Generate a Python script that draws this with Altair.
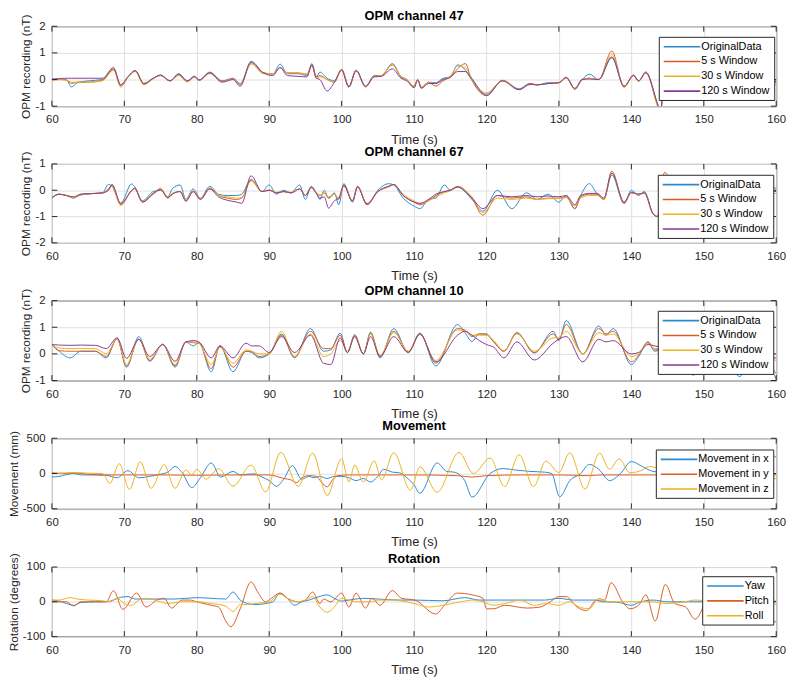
import altair as alt
import pandas as pd

FONT = "Liberation Sans"
DARK = "#262626"
GRID = "#dfdfdf"
W = 734
TICK_LEN = 5.5
X_TICKS = [60, 70, 80, 90, 100, 110, 120, 130, 140, 150, 160]

OPM_NAMES = ["OriginalData", "5 s Window", "30 s Window", "120 s Window"]
MOV_NAMES = ["Movement in x", "Movement in y", "Movement in z"]
ROT_NAMES = ["Yaw", "Pitch", "Roll"]
COLORS = ["#2a8bd2", "#dc5c25", "#edb120", "#853d96"]

# ---------------- OPM channel 47 ----------------
P1_T = [60, 61, 62, 62.7, 63.5, 65, 67, 68.5, 69.5, 70.5,
        71.5, 72.7, 74, 75, 76.3, 77.5, 78.7, 79.7, 80.3, 81.8,
        83.5, 85, 86, 87.5, 89.2, 90.5, 91.5, 92.5, 94, 95.2,
        95.9, 96.5, 97, 98, 99, 100, 101, 102, 103.3, 104.5,
        105.5, 107, 108.2, 109, 110, 110.5, 111, 112, 113, 114,
        115, 116, 117.1, 117.8, 120, 122.2, 124.5, 126, 127, 128.5,
        130, 131, 132.2, 133.2, 134.2, 135.5, 137.3, 139, 140.3, 141,
        142, 143.6, 144.0, 144.6, 146, 148, 150, 152, 154, 156,
        157.8, 158.5, 160]
P1_ORIG = [0.0, 0.02, 0.0, -0.28, -0.12, -0.05, 0.0, 0.38, -0.2, 0.1,
           0.33, -0.15, 0.05, 0.17, -0.05, 0.22, -0.05, 0.12, -0.02, 0.28,
           -0.05, 0.05, -0.15, 0.65, 0.25, 0.2, 0.58, 0.22, 0.22, 0.15,
           0.6, 0.1, 0.28, 0.05, -0.05, 0.38, -0.25, 0.35, -0.25, 0.15,
           0.15, 0.6, 0.1, 0.0, -0.3, 0.0, -0.3, -0.1, -0.12, 0.05,
           0.1, 0.55, 0.35, 0.05, -0.55, -0.03, -0.35, -0.15, -0.2, -0.12,
           -0.12, 0.08, -0.35, 0.0, 0.2, 0.0, 0.82, -0.25, 0.15, -0.05,
           0.28, -0.9, -1.2, 0.0, 0.1, -0.2, 0.2, 0.0, 0.2, 0.1,
           0.3, 0.0, -0.05]
P1_W5 = [0.0, 0.0, -0.02, -0.15, -0.1, -0.1, -0.02, 0.4, -0.25, 0.1,
         0.33, -0.18, 0.05, 0.15, -0.05, 0.18, -0.08, 0.1, -0.04, 0.25,
         -0.06, 0.03, -0.2, 0.6, 0.25, 0.22, 0.45, 0.25, 0.25, 0.2,
         0.55, 0.1, 0.15, 0.0, -0.1, 0.38, -0.28, 0.35, -0.28, 0.12,
         0.15, 0.55, 0.12, 0.0, -0.25, 0.0, -0.3, -0.1, -0.25, -0.05,
         0.1, 0.4, 0.6, 0.1, -0.6, -0.03, -0.38, -0.15, -0.2, -0.15,
         -0.12, 0.08, -0.37, 0.0, 0.05, 0.0, 1.07, -0.28, 0.18, -0.06,
         0.28, -0.95, -1.2, 0.0, 0.1, -0.2, 0.2, 0.0, 0.2, 0.1,
         0.3, -0.05, -0.1]
P1_W30 = [-0.05, 0.0, -0.02, -0.1, -0.1, -0.1, -0.05, 0.35, -0.28, 0.08,
          0.3, -0.2, 0.03, 0.15, -0.05, 0.15, -0.08, 0.1, -0.04, 0.22,
          -0.08, 0.02, -0.2, 0.6, 0.22, 0.22, 0.45, 0.25, 0.25, 0.2,
          0.5, 0.05, 0.1, 0.0, -0.1, 0.35, -0.28, 0.33, -0.28, 0.12,
          0.15, 0.55, 0.12, 0.0, -0.25, 0.0, -0.28, -0.12, -0.15, 0.0,
          0.12, 0.5, 0.45, 0.1, -0.5, -0.05, -0.38, -0.18, -0.2, -0.15,
          -0.12, 0.05, -0.35, -0.02, 0.05, 0.0, 0.95, -0.3, 0.15, -0.06,
          0.25, -1.0, -1.3, 0.0, 0.1, -0.2, 0.2, 0.0, 0.2, 0.1,
          0.25, -0.1, -0.2]
P1_W120 = [0.02, 0.03, 0.05, 0.05, 0.05, 0.05, 0.05, 0.45, -0.2, 0.1,
           0.33, -0.15, 0.05, 0.17, -0.05, 0.2, -0.05, 0.12, -0.02, 0.25,
           -0.1, 0.0, -0.25, 0.68, 0.25, 0.15, 0.45, 0.15, 0.12, 0.1,
           0.55, 0.05, 0.0, -0.43, -0.1, 0.35, -0.28, 0.33, -0.25, 0.1,
           0.12, 0.4, 0.05, -0.05, -0.3, -0.02, -0.33, -0.15, -0.15, 0.0,
           0.08, 0.3, 0.3, 0.1, -0.6, -0.05, -0.38, -0.18, -0.2, -0.15,
           -0.12, 0.08, -0.33, 0.0, 0.02, 0.0, 0.85, -0.25, 0.15, -0.05,
           0.25, -0.9, -1.2, 0.0, 0.1, -0.2, 0.2, 0.0, 0.2, 0.1,
           0.28, -0.05, -0.1]

# ---------------- OPM channel 67 ----------------
P2_T = [60, 61, 62, 63, 64, 66, 67, 67.8, 68.3, 69.5,
        71, 71.4, 72.5, 74, 75, 76, 76.6, 77.7, 78.5, 79.5,
        80.5, 81.8, 83, 84.2, 85.5, 86.2, 87.5, 89, 90, 91,
        92, 93, 94.2, 95, 95.8, 96.5, 97, 97.6, 98.2, 99,
        99.6, 100.3, 101.5, 102.2, 103.5, 105, 106.5, 107.2, 108.5, 110,
        110.8, 112, 113, 114.2, 115, 116, 118, 119.5, 121.5, 123.5,
        125.5, 127, 128.5, 130, 131, 132.2, 133, 134.2, 135.3, 136.2,
        137.3, 139, 140, 141, 141.8, 143, 143.6, 144.6, 146, 148,
        150, 152, 154, 156, 158, 159, 160]
P2_ORIG = [-0.3, -0.15, -0.2, -0.3, -0.15, -0.12, -0.1, 0.22, 0.15, -0.5,
           0.24, 0.15, -0.4, -0.05, 0.0, -0.25, 0.05, 0.2, -0.35, 0.05,
           -0.3, 0.15, -0.15, -0.2, -0.2, -0.15, 0.4, -0.05, 0.2, -0.15,
           0.0, -0.1, 0.2, -0.35, 0.15, -0.1, -0.35, 0.0, -0.3, -0.1,
           -0.55, 0.25, -0.45, 0.15, -0.55, 0.0, 0.25, 0.2, -0.3, -0.6,
           -0.7, -0.35, -0.3, 0.2, 0.0, 0.12, -0.35, -0.8, 0.0, -0.7,
           -0.1, -0.35, -0.15, -0.45, -0.2, -0.7, -0.2, 0.25, -0.15, -0.35,
           0.58, -0.5, 0.0, -0.2, -0.05, -0.9, -1.0, 0.4, 0.0, -0.3,
           0.1, -0.3, 0.0, -0.2, 0.25, 0.1, 0.08]
P2_W5 = [-0.28, -0.15, -0.2, -0.28, -0.18, -0.12, -0.1, 0.05, 0.2, -0.55,
         0.0, 0.08, -0.45, -0.15, 0.05, -0.3, -0.15, -0.05, -0.4, -0.05,
         -0.35, 0.08, -0.2, -0.3, -0.35, -0.3, 0.4, -0.05, 0.0, -0.1,
         -0.05, -0.1, 0.05, -0.2, 0.12, -0.1, -0.2, -0.1, -0.3, -0.15,
         -0.35, 0.2, -0.4, 0.15, -0.55, -0.05, 0.15, 0.22, -0.2, -0.45,
         -0.55, -0.4, -0.2, -0.05, 0.0, 0.15, -0.3, -0.95, -0.2, -0.3,
         -0.25, -0.35, -0.3, -0.3, -0.25, -0.7, -0.25, -0.15, -0.15, -0.35,
         0.73, -0.5, -0.1, -0.15, -0.1, -0.9, -1.0, 0.68, 0.0, -0.3,
         0.1, -0.3, 0.0, -0.2, 0.2, 0.0, -0.02]
P2_W30 = [-0.28, -0.15, -0.2, -0.28, -0.18, -0.12, -0.1, 0.0, 0.15, -0.58,
          -0.02, 0.05, -0.42, -0.12, 0.08, -0.25, -0.12, -0.05, -0.38, -0.02,
          -0.3, 0.05, -0.18, -0.25, -0.3, -0.28, 0.35, -0.05, 0.02, -0.08,
          -0.05, -0.08, 0.05, -0.18, 0.1, -0.08, -0.18, -0.12, -0.25, -0.15,
          -0.3, 0.15, -0.38, 0.12, -0.5, -0.05, 0.12, 0.2, -0.15, -0.4,
          -0.5, -0.4, -0.25, -0.1, -0.02, 0.12, -0.25, -0.85, -0.3, -0.35,
          -0.3, -0.35, -0.32, -0.32, -0.28, -0.6, -0.3, -0.2, -0.2, -0.35,
          0.65, -0.45, -0.1, -0.15, -0.12, -0.9, -1.0, 0.5, 0.0, -0.3,
          0.1, -0.3, 0.0, -0.2, 0.15, -0.05, -0.13]
P2_W120 = [-0.28, -0.15, -0.2, -0.25, -0.15, -0.12, -0.1, 0.0, 0.22, -0.5,
           -0.02, 0.08, -0.45, -0.12, 0.02, -0.28, -0.15, -0.05, -0.42, -0.05,
           -0.35, 0.05, -0.25, -0.38, -0.45, -0.5, 0.55, -0.05, 0.0, -0.1,
           -0.05, -0.1, 0.05, -0.2, 0.1, -0.12, -0.3, -0.25, -0.68, -0.4,
           -0.3, 0.18, -0.42, 0.12, -0.52, -0.05, 0.15, 0.22, -0.2, -0.45,
           -0.5, -0.35, -0.15, -0.05, 0.0, 0.12, -0.3, -0.7, -0.2, -0.25,
           -0.2, -0.25, -0.22, -0.25, -0.2, -0.55, -0.2, -0.12, -0.12, -0.3,
           0.65, -0.45, -0.08, -0.15, -0.1, -0.9, -1.0, 0.45, 0.0, -0.3,
           0.1, -0.3, 0.0, -0.2, 0.18, 0.0, -0.05]

# ---------------- OPM channel 10 ----------------
P3_T = [60, 61, 62.5, 64, 66, 67.5, 69, 70.3, 72, 73.5,
        75.3, 77, 78.5, 79.5, 80.3, 82, 83.2, 85, 86.8, 87.6,
        88.6, 90, 91.7, 93.5, 95.7, 97.5, 98.5, 99.8, 100.8, 101.8,
        103, 104, 105.3, 107.2, 109.2, 110.8, 113, 116, 117, 118,
        119, 120, 121, 122.4, 124.2, 126.6, 129.2, 130, 131, 133.3,
        135.5, 136.5, 137.5, 140, 141, 142.3, 143.2, 145, 147, 148.6,
        150, 152, 153.5, 155, 156.5, 158, 159, 160]
P3_ORIG = [0.35, 0.1, -0.15, 0.1, 0.1, -0.15, 0.58, -0.5, 0.65, -0.28,
           0.37, -0.5, 0.45, 0.3, 0.42, -0.67, 0.3, -0.67, 0.1, 0.05,
           -0.15, 0.0, 0.75, -0.15, 0.95, 0.1, 0.15, 0.78, 0.05, 0.72,
           0.0, 0.82, -0.15, 0.95, 0.05, 0.78, -0.45, 1.1, 0.8, 0.47,
           0.75, 0.75, 0.45, 0.1, 0.8, 0.03, 0.85, 0.5, 1.25, 0.0,
           1.05, 0.7, 0.95, -0.4, -0.1, 0.45, 0.1, 0.2, -0.3, -0.8,
           0.0, 0.2, -0.4, -0.85, 0.1, -0.25, -0.45, -0.95]
P3_W5 = [0.35, 0.12, 0.1, 0.1, 0.1, -0.1, 0.55, -0.45, 0.55, -0.25,
         0.35, -0.45, 0.45, 0.42, 0.4, -0.55, 0.3, -0.5, 0.1, 0.08,
         -0.1, 0.0, 0.7, -0.12, 0.85, 0.2, 0.2, 0.7, 0.05, 0.7,
         0.0, 0.78, -0.1, 0.85, 0.08, 0.75, -0.35, 0.95, 0.9, 0.65,
         0.75, 0.72, 0.45, 0.1, 0.78, 0.05, 0.75, 0.55, 1.1, 0.0,
         0.95, 0.75, 0.85, -0.3, -0.05, 0.45, 0.15, 0.2, -0.2, -0.5,
         0.0, 0.2, -0.3, -0.6, 0.0, -0.2, -0.4, -0.75]
P3_W30 = [0.35, 0.22, 0.2, 0.2, 0.2, 0.0, 0.55, -0.4, 0.55, -0.2,
          0.35, -0.4, 0.45, 0.45, 0.4, -0.4, 0.25, -0.35, 0.15, 0.1,
          0.0, 0.0, 0.85, -0.1, 0.75, -0.1, 0.0, 0.5, 0.1, 0.65,
          0.0, 0.75, -0.05, 0.8, 0.1, 0.72, -0.25, 0.9, 0.85, 0.7,
          0.7, 0.7, 0.5, 0.12, 0.75, 0.1, 0.6, 0.62, 0.85, 0.0,
          0.8, 0.7, 0.75, -0.1, 0.0, 0.4, 0.2, 0.2, 0.0, -0.2,
          0.0, 0.1, -0.1, -0.3, 0.0, -0.1, -0.15, -0.25]
P3_W120 = [0.35, 0.33, 0.32, 0.33, 0.32, 0.2, 0.6, -0.17, 0.55, -0.1,
           0.35, -0.28, 0.45, 0.5, 0.45, -0.15, 0.3, -0.15, 0.4, 0.3,
           0.3, 0.05, 0.65, 0.05, 0.7, -0.35, -0.4, 0.6, 0.05, 0.65,
           0.0, 0.65, -0.1, 0.65, 0.05, 0.75, -0.3, 0.7, 0.85, 0.7,
           0.5, 0.35, 0.25, -0.15, 0.45, -0.23, 0.4, 0.55, 0.65, -0.3,
           0.55, 0.45, 0.5, 0.0, 0.05, 0.35, 0.3, 0.2, 0.1, 0.0,
           0.1, 0.1, 0.0, -0.1, 0.0, -0.1, -0.15, -0.15]

# ---------------- Movement ----------------
MX_T = [60, 61, 62, 63, 64, 66, 67.5, 69, 70.5, 72,
        73.5, 75, 76, 77, 78, 79.3, 80.5, 82, 83.3, 85,
        86, 87, 88, 89, 90, 91, 92, 93.2, 94.5, 95.5,
        96.2, 97, 98, 99, 100, 101, 102, 103, 104, 105,
        105.8, 107, 108, 109, 110, 110.8, 113.2, 114.5, 115.5, 117,
        118, 120.5, 122.3, 124, 126, 128, 129, 130.1, 131.5, 133,
        134.2, 135.5, 137, 138.5, 140, 141.5, 143, 146, 150, 154,
        157, 159.5, 160]
MX_V = [-50, -40, -15, 0, -20, -20, -25, -60, 40, -60,
        -40, -10, 20, 100, 10, -200, -60, 150, -50, 30,
        -20, -10, -5, -50, -100, -180, -80, 110, -80, -40,
        -60, -40, -70, -40, -40, -60, -100, -70, -120, -40,
        60, 20, 10, -60, -160, -280, 150, 30, 20, -100,
        -335, 0, 70, 50, 30, 20, 0, -330, -100, 0,
        130, 60, -100, 0, 170, 100, 30, 0, -50, 50,
        100, 250, 230]
MY_T = [60, 62, 63, 65, 68, 75, 80, 85, 90, 91,
        92, 93, 93.8, 94.5, 95.5, 96.5, 97.2, 98, 98.8, 99.5,
        101, 110, 116, 118, 120, 125, 130, 134, 136, 140,
        150, 160]
MY_V = [10, 0, 10, -10, -20, -20, -25, -20, -20, -40,
        -70, -90, -130, -60, -30, -40, -120, -190, -80, -30,
        -20, -20, -30, -50, -30, -20, -20, -30, -20, -20,
        -20, -20]
MZ_T = [60, 62, 63, 65, 67, 68, 69.3, 70.7, 72.2, 73.7,
        75.5, 77, 78.5, 79.3, 80, 81.3, 83, 85, 87.5, 89.5,
        91.6, 94, 96, 98, 100, 101, 101.8, 103, 104.5, 105.5,
        107.2, 109.5, 110.8, 113.2, 116.2, 118.2, 120.5, 122.5, 124.5, 126.5,
        128.2, 130, 131.5, 133.6, 135.6, 137, 138.3, 139.8, 141.3, 142.5,
        144, 147, 150, 153, 156, 158.5, 160]
MZ_V = [0, 10, 15, 5, 0, -140, 140, -225, 165, -210,
        125, -210, 50, -20, 60, -80, 70, -180, 120, -260,
        300, -180, 290, -310, 210, -120, 120, -120, 180, -90,
        295, -235, 95, -265, 300, 0, 220, -185, 265, -185,
        175, 15, 295, -220, 290, 60, 210, 10, 40, 100,
        60, -100, 100, -100, 50, -20, -80]

# ---------------- Rotation ----------------
RY_T = [60, 61, 62, 63, 64, 66, 67.5, 68.5, 69.5, 70.5,
        71.5, 73, 75, 77, 80, 82, 84, 85, 86, 87,
        88, 89.5, 90.5, 91.5, 92.5, 93.5, 94.5, 95.5, 96.5, 98,
        99, 100, 101, 103, 105, 108, 110, 114, 117, 119,
        122, 125, 128, 130, 132, 135, 136, 138, 140, 141,
        143, 145, 148, 152, 156, 158.5, 160]
RY_V = [5, 2, -5, -10, -2, 0, 0, 5, 13, 15,
        8, 8, 8, 8, 12, 10, 8, 28, 5, -5,
        -8, -5, 0, 25, 10, -10, 0, 5, 12, 20,
        10, 2, 5, 10, 8, 5, 5, 3, 12, 5,
        5, 5, 5, 10, 5, 5, 0, -1, -10, -2,
        5, 0, 0, 0, 0, 0, 2]
RP_T = [60, 62, 63, 64, 67.5, 68.5, 69.8, 71.7, 73, 74.5,
        75.5, 76.5, 78, 79, 80, 82, 83, 84, 84.7, 86,
        87.5, 88.5, 89.5, 90.3, 91.5, 92.5, 94, 95, 96, 97,
        97.5, 98.5, 100, 101, 102, 103.3, 104.2, 105.3, 107, 108.3,
        110.1, 113, 114.2, 116, 118, 119.5, 120, 121, 122.5, 125.6,
        127.4, 128.8, 130, 131, 132.5, 133.8, 135.2, 136.3, 137.2, 138.8,
        139.8, 141, 142, 143.3, 144.7, 146, 147.5, 148.8, 151, 154,
        157, 158.5, 159.3, 160]
RP_V = [0, 0, -12, 0, 0, 32, -22, 25, -15, 5,
        10, -18, 5, 5, 0, -10, -15, -55, -72, -20,
        57, 25, 0, 10, 25, 10, 0, 5, 28, -5,
        8, 0, 25, -15, 25, -18, 10, -10, 32, 10,
        5, -35, -10, 25, 20, 10, -20, -20, -10, -18,
        -15, 0, 15, 15, -15, -25, 5, 5, 55, 0,
        -20, -10, 20, -55, 50, -5, -15, -50, 20, -30,
        10, -10, -55, -58]
RR_T = [60, 61, 62, 62.5, 63.5, 65, 67, 68, 69, 70,
        71, 72, 73, 75, 76, 78, 80, 82, 84, 85,
        86, 87, 88, 90, 91.5, 92.5, 94, 95, 96, 97,
        98, 99, 100, 101, 102, 104, 105, 107, 110, 112,
        114, 116.5, 118, 119.5, 121, 122.5, 124.7, 126.5, 128.3, 130,
        131.5, 132.8, 134.2, 135.5, 137, 139, 141, 143, 144.7, 147.4,
        148.8, 152, 156, 159, 160]
RR_V = [5, 5, 10, 12, 8, 5, 3, 0, 10, -5,
        -10, 5, 10, 0, -5, 0, 0, -5, -12, -28,
        -8, -8, -5, 0, 22, 10, 0, 5, 15, -15,
        -30, -15, 10, 5, 0, 0, 5, 5, -5, -15,
        -10, 0, 5, 0, -10, -5, 5, -10, -5, -10,
        0, -15, -20, 10, 0, 0, 0, 0, -5, 0,
        5, 0, 0, 5, -10]


def frame(pairs):
    rows = []
    for name, ts, vs in pairs:
        for t, v in zip(ts, vs):
            rows.append({"t": t, "v": v, "s": name})
    return pd.DataFrame(rows)


def panel(df, names, title, ytitle, ydomain, yticks, height, lx, ly, toff):
    xscale = alt.Scale(domain=[60, 160], nice=False, zero=False)
    yscale = alt.Scale(domain=ydomain, nice=False, zero=False)
    xaxis = alt.Axis(values=X_TICKS, title="Time (s)", grid=True, ticks=False,
                     tickSize=0, domain=False, labelPadding=8, titlePadding=8,
                     labelFlush=False, labelExpr="datum.value + ''")
    yaxis = alt.Axis(values=yticks, title=ytitle, grid=True, ticks=False,
                     tickSize=0, domain=False, labelPadding=7, titlePadding=2,
                     titleFontSize=12, labelExpr="datum.value + ''")
    legend = alt.Legend(orient="none", legendX=lx, legendY=ly, title=None,
                        symbolType="M-1,0H6.4", symbolSize=100,
                        symbolStrokeWidth=1.6, labelFont=FONT, labelFontSize=11,
                        labelColor="#000000", labelOffset=27, rowPadding=4,
                        padding=4, fillColor="white", strokeColor=DARK)
    lines = alt.Chart(df).mark_line(strokeWidth=1.0, interpolate="monotone",
                                    clip=True).encode(
        x=alt.X("t:Q", scale=xscale, axis=xaxis),
        y=alt.Y("v:Q", scale=yscale, axis=yaxis),
        color=alt.Color("s:N", scale=alt.Scale(domain=names, range=COLORS[:len(names)]),
                        legend=legend),
    )
    xt = pd.DataFrame({"t": X_TICKS})
    yt = pd.DataFrame({"v": yticks})
    tick_b = alt.Chart(xt).mark_rule(color=DARK, strokeWidth=1).encode(
        x=alt.X("t:Q", scale=xscale, axis=xaxis),
        y=alt.value(height), y2=alt.value(height - TICK_LEN))
    tick_t = alt.Chart(xt).mark_rule(color=DARK, strokeWidth=1).encode(
        x=alt.X("t:Q", scale=xscale, axis=xaxis),
        y=alt.value(0), y2=alt.value(TICK_LEN))
    tick_l = alt.Chart(yt).mark_rule(color=DARK, strokeWidth=1).encode(
        y=alt.Y("v:Q", scale=yscale, axis=yaxis),
        x=alt.value(0), x2=alt.value(TICK_LEN))
    tick_r = alt.Chart(yt).mark_rule(color=DARK, strokeWidth=1).encode(
        y=alt.Y("v:Q", scale=yscale, axis=yaxis),
        x=alt.value(W - TICK_LEN), x2=alt.value(W))
    return alt.layer(lines, tick_b, tick_t, tick_l, tick_r).properties(
        width=W, height=height,
        title=alt.TitleParams(title, anchor="middle", frame="group", offset=toff,
                              fontSize=13, font=FONT, fontWeight="bold",
                              color="#000000"))


df1 = frame([(OPM_NAMES[0], P1_T, P1_ORIG), (OPM_NAMES[1], P1_T, P1_W5),
             (OPM_NAMES[2], P1_T, P1_W30), (OPM_NAMES[3], P1_T, P1_W120)])
df2 = frame([(OPM_NAMES[0], P2_T, P2_ORIG), (OPM_NAMES[1], P2_T, P2_W5),
             (OPM_NAMES[2], P2_T, P2_W30), (OPM_NAMES[3], P2_T, P2_W120)])
df3 = frame([(OPM_NAMES[0], P3_T, P3_ORIG), (OPM_NAMES[1], P3_T, P3_W5),
             (OPM_NAMES[2], P3_T, P3_W30), (OPM_NAMES[3], P3_T, P3_W120)])
df4 = frame([(MOV_NAMES[0], MX_T, MX_V), (MOV_NAMES[1], MY_T, MY_V),
             (MOV_NAMES[2], MZ_T, MZ_V)])
df5 = frame([(ROT_NAMES[0], RY_T, RY_V), (ROT_NAMES[1], RP_T, RP_V),
             (ROT_NAMES[2], RR_T, RR_V)])

p1 = panel(df1, OPM_NAMES, "OPM channel 47", "OPM recording (nT)", [-1, 2], [-1, 0, 1, 2], 81, 615, 10.7, -9)
p2 = panel(df2, OPM_NAMES, "OPM channel 67", "OPM recording (nT)", [-2, 1], [-2, -1, 0, 1], 80, 614, 11, -8)
p3 = panel(df3, OPM_NAMES, "OPM channel 10", "OPM recording (nT)", [-1, 2], [-1, 0, 1, 2], 81, 614, 10.3, -10)
p4 = panel(df4, MOV_NAMES, "Movement", "Movement (mm)", [-500, 500], [-500, 0, 500], 71.5, 612, 11.4, -2.5)
p5 = panel(df5, ROT_NAMES, "Rotation", "Rotation (degrees)", [-100, 100], [-100, 0, 100], 70.5, 659, 9.3, -13.8)

chart = alt.vconcat(p1, p2, p3, p4, p5, spacing=58.5, bounds="flush").resolve_scale(
    x="independent", y="independent", color="independent"
).resolve_legend(color="independent").configure(
    font=FONT, padding={"left": -1.5, "top": -4, "right": 5, "bottom": 0}
).configure_view(stroke=DARK, strokeWidth=1).configure_axis(
    labelFont=FONT, titleFont=FONT, labelFontSize=11.5, titleFontSize=13,
    labelColor=DARK, titleColor=DARK, titleFontWeight="normal",
    gridColor=GRID, gridWidth=1
)

chart.save("out.html", embed_options={"renderer": "svg", "actions": False})
